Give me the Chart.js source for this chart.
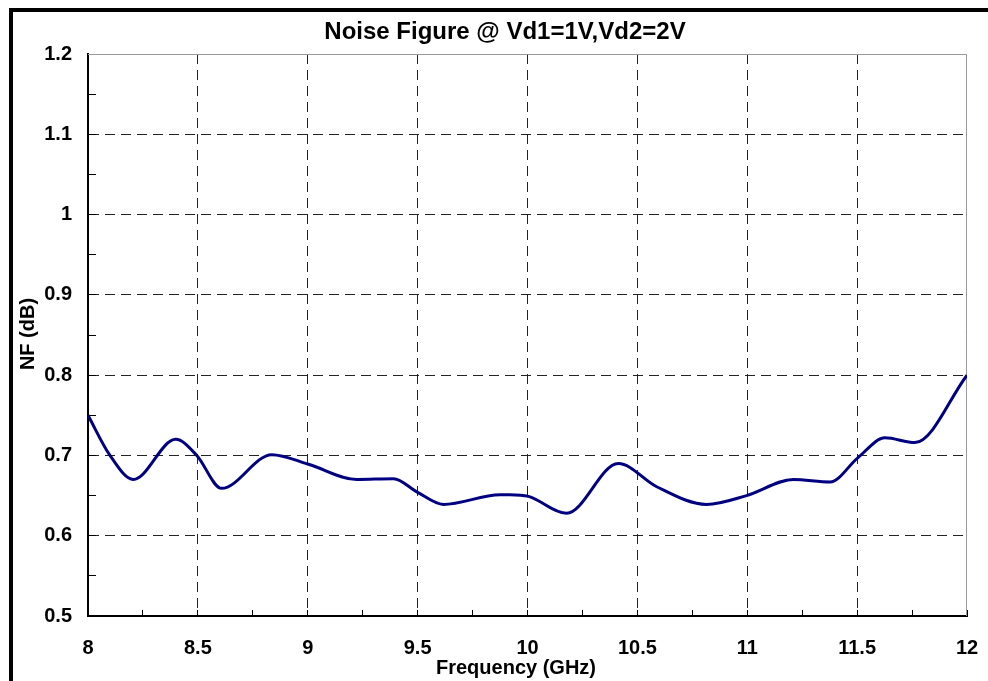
<!DOCTYPE html>
<html>
<head>
<meta charset="utf-8">
<script src="https://cdn.jsdelivr.net/npm/chart.js@4.4.0/dist/chart.umd.min.js"></script>
<style>
  html, body { margin: 0; padding: 0; background: #fff; }
  canvas { display: block; }
</style>
</head>
<body>
<canvas id="nfChart" width="988" height="681"></canvas>
<script>
// Measured noise figure vs frequency
const freqGHz = [8.0, 8.1, 8.206, 8.399, 8.495, 8.608, 8.836, 9.003, 9.223, 9.39, 9.5, 9.617,
  9.875, 9.92, 10.004, 10.178, 10.413, 10.588, 10.815, 10.997, 11.21, 11.377, 11.503, 11.627,
  11.763, 12.0];
const nfDb = [0.75, 0.70, 0.670, 0.720, 0.700, 0.659, 0.701, 0.689, 0.670, 0.671, 0.654, 0.639,
  0.651, 0.651, 0.649, 0.628, 0.690, 0.661, 0.639, 0.650, 0.670, 0.667, 0.697, 0.722,
  0.716, 0.80];

const titleText = "Noise Figure @ Vd1=1V,Vd2=2V";
const xTitle = "Frequency (GHz)";
const yTitle = "NF (dB)";
const FONT = "'Liberation Sans', Arial, sans-serif";

const isMajor = (v, step) => Math.abs(v / step - Math.round(v / step)) < 1e-6;

// frame, plot border and titles
const decorations = {
  id: "decorations",
  beforeDatasetsDraw(chart) {
    const { ctx, chartArea: a } = chart;
    ctx.save();
    ctx.strokeStyle = "#999";
    ctx.lineWidth = 1;
    ctx.beginPath();
    ctx.moveTo(a.left, a.top + 0.5);
    ctx.lineTo(a.right - 0.5, a.top + 0.5);
    ctx.lineTo(a.right - 0.5, a.bottom);
    ctx.stroke();
    ctx.restore();
  },
  afterDraw(chart) {
    const ctx = chart.ctx;
    ctx.save();
    ctx.fillStyle = "#000";
    ctx.fillRect(9, 8, 979, 4);
    ctx.fillRect(9, 8, 4, 673);

    ctx.textAlign = "center";
    ctx.textBaseline = "alphabetic";
    ctx.font = "bold 24px " + FONT;
    ctx.fillText(titleText, 505, 39);

    ctx.font = "bold 20px " + FONT;
    ctx.fillText(xTitle, 516, 674);

    ctx.translate(28, 334);
    ctx.rotate(-Math.PI / 2);
    ctx.textBaseline = "middle";
    ctx.fillText(yTitle, 0, 0);
    ctx.restore();
  }
};

new Chart(document.getElementById("nfChart").getContext("2d"), {
  type: "line",
  data: {
    datasets: [{
      data: freqGHz.map((f, i) => ({ x: f, y: nfDb[i] })),
      borderColor: "#000080",
      borderWidth: 3,
      pointRadius: 0,
      cubicInterpolationMode: "monotone",
      fill: false
    }]
  },
  options: {
    responsive: false,
    animation: false,
    layout: { padding: { top: 54, right: 21, left: 0, bottom: 0 } },
    plugins: { legend: { display: false }, tooltip: { enabled: false }, title: { display: false } },
    scales: {
      x: {
        type: "linear",
        min: 8,
        max: 12,
        afterFit: s => { s.height = 65; s.paddingLeft = 0; s.paddingRight = 0; },
        ticks: {
          stepSize: 0.25,
          autoSkip: false,
          maxRotation: 0,
          padding: 26,
          color: "#000",
          font: { family: FONT, size: 20, weight: "bold" },
          callback: v => isMajor(v, 0.5) ? String(Math.round(v * 10) / 10) : ""
        },
        grid: {
          color: c => c.tick && isMajor(c.tick.value, 0.5) && c.tick.value < 12 ? "#222" : "rgba(0,0,0,0)",
          tickColor: "#000",
          tickLength: -6,
          lineWidth: 1
        },
        border: { color: "#000", width: 2, dash: [10, 6] }
      },
      y: {
        min: 0.5,
        max: 1.2,
        afterFit: s => { s.width = 88; s.paddingTop = 0; s.paddingBottom = 0; },
        ticks: {
          stepSize: 0.05,
          autoSkip: false,
          padding: 24,
          color: "#000",
          font: { family: FONT, size: 20, weight: "bold" },
          callback: v => isMajor(v, 0.1) ? String(Math.round(v * 10) / 10) : ""
        },
        grid: {
          color: c => c.tick && isMajor(c.tick.value, 0.1) ? "#222" : "rgba(0,0,0,0)",
          tickColor: "#000",
          tickLength: -8,
          lineWidth: 1
        },
        border: { color: "#000", width: 2, dash: [10, 6] }
      }
    }
  },
  plugins: [decorations]
});
</script>
</body>
</html>
